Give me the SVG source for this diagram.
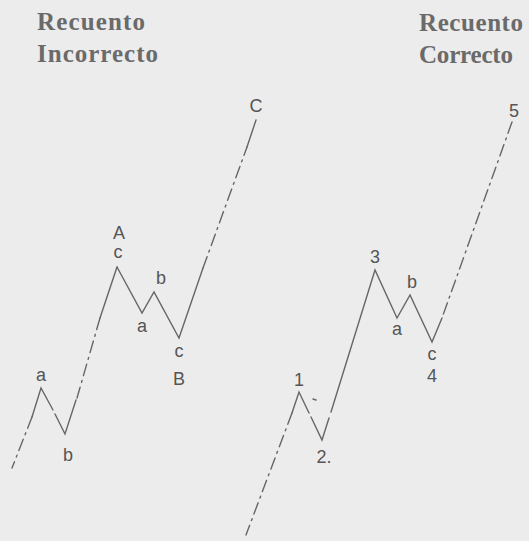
<svg xmlns="http://www.w3.org/2000/svg" width="529" height="541" viewBox="0 0 529 541">
<style>
.bg{fill:#ececec}
.title{font-family:"Liberation Serif","Times New Roman",serif;font-weight:bold;font-size:25px;fill:#6a6a6a}
.lbl{font-family:"Liberation Sans",Arial,sans-serif;font-size:18px;fill:#555;text-anchor:middle}
.ln{fill:none;stroke:#666;stroke-width:1.4;stroke-linecap:round;stroke-linejoin:miter}
.dd{stroke-dasharray:12 5 2 5}
</style>
<rect class="bg" x="0" y="0" width="529" height="541"/>
<g id="titles">
<text class="title" x="37" y="30" textLength="108" lengthAdjust="spacing">Recuento</text>
<text class="title" x="37" y="62" textLength="121" lengthAdjust="spacing">Incorrecto</text>
<text class="title" x="419" y="31" textLength="104" lengthAdjust="spacing">Recuento</text>
<text class="title" x="419" y="63" textLength="94" lengthAdjust="spacing">Correcto</text>
</g>
<g id="connectors">
<!-- left chart -->
<path class="ln" d="M117,267 L142,313 L154,292 L179,338 L203,268"/>
<path class="ln dd" d="M203,268 L247,147"/>
<path class="ln" d="M247,147 L256,120"/>
<path class="ln" d="M117,267 L100,318"/>
<path class="ln dd" d="M100,318 L77,398"/>
<path class="ln" d="M76,400 L65,434 L55,414"/>
<path class="ln" d="M53,410 L41,388 L32,417"/>
<path class="ln dd" d="M32,417 L12,468"/>
<!-- right chart -->
<path class="ln dd" d="M512,122 L442,318"/>
<path class="ln" d="M442,318 L432,342 L410,295 L397,318 L375,270 L331,412"/>
<path class="ln" d="M329,418 L322,440 L311,417"/>
<path class="ln" d="M309,413 L299,392 L292,413"/>
<path class="ln dd" d="M292,413 L246,535"/>
<path class="ln" d="M313,399 L316,400"/>
</g>
<g id="node-C"><text class="lbl" x="256" y="112">C</text></g>
<g id="node-A"><text class="lbl" x="119" y="239">A</text><text class="lbl" x="118" y="258">c</text></g>
<g id="node-a1"><text class="lbl" x="41" y="381">a</text></g>
<g id="node-b1"><text class="lbl" x="68" y="461">b</text></g>
<g id="node-b2"><text class="lbl" x="161" y="284">b</text></g>
<g id="node-a2"><text class="lbl" x="142" y="332">a</text></g>
<g id="node-B"><text class="lbl" x="179" y="357">c</text><text class="lbl" x="179" y="385">B</text></g>
<g id="node-5"><text class="lbl" x="514" y="117">5</text></g>
<g id="node-3"><text class="lbl" x="375" y="263">3</text></g>
<g id="node-b3"><text class="lbl" x="412" y="288">b</text></g>
<g id="node-a3"><text class="lbl" x="397" y="335">a</text></g>
<g id="node-4"><text class="lbl" x="432" y="360">c</text><text class="lbl" x="432" y="382">4</text></g>
<g id="node-1"><text class="lbl" x="299" y="386">1</text></g>
<g id="node-2"><text class="lbl" x="324" y="463">2.</text></g>
</svg>
